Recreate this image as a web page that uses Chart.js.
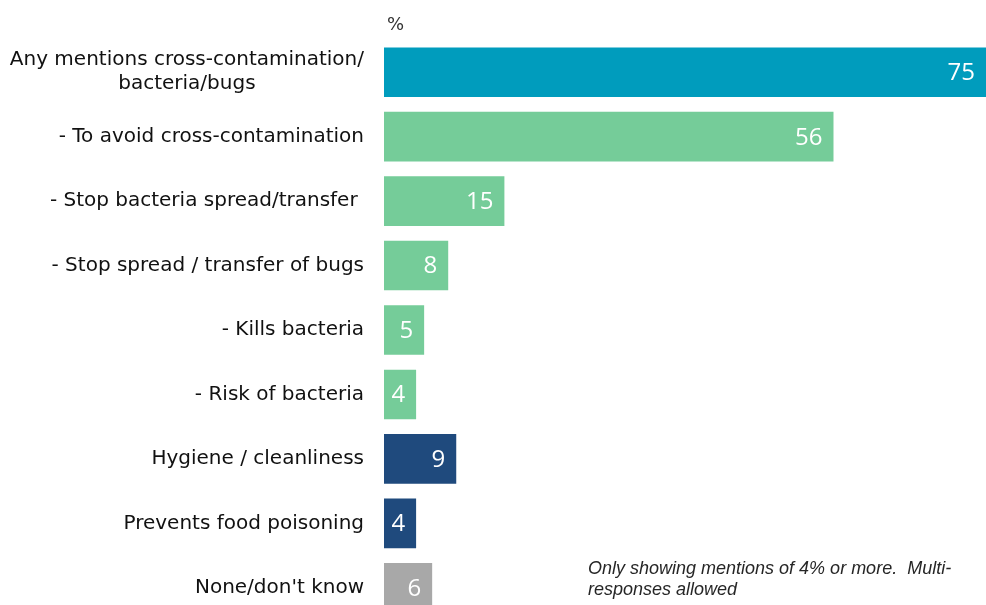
<!DOCTYPE html>
<html>
<head>
<meta charset="utf-8">
<script src="https://cdn.jsdelivr.net/npm/chart.js@4/dist/chart.umd.min.js"></script>
<style>
  html, body { margin: 0; padding: 0; background: #ffffff; overflow: hidden; }
  #wrap { position: relative; width: 986px; height: 620px; }
</style>
</head>
<body>
<div id="wrap"><canvas id="chart"></canvas></div>
<script>
// Reasons given, % of respondents (multi-response)
const categories = [
  ["Any mentions cross-contamination/", "bacteria/bugs"],
  "- To avoid cross-contamination",
  "- Stop bacteria spread/transfer ",
  "- Stop spread / transfer of bugs",
  "- Kills bacteria",
  "- Risk of bacteria",
  "Hygiene / cleanliness",
  "Prevents food poisoning",
  "None/don't know"
];
const values = [75, 56, 15, 8, 5, 4, 9, 4, 6];
const groups = ["total", "sub", "sub", "sub", "sub", "sub", "other", "other", "none"];
const unitLabel = "%";
const footnoteLines = ["Only showing mentions of 4% or more.  Multi-", "responses allowed"];

const groupColors = { total: "#009CBD", sub: "#75CC99", other: "#1F4A7D", none: "#A8A8A8" };

const labelFont = "20px 'DejaVu Sans', Verdana, sans-serif";
const valueFont = "24px 'Open Sans', 'Noto Sans', sans-serif";

// Draws category labels, value labels, unit marker and footnote
const annotate = {
  id: "annotate",
  afterDatasetsDraw(chart) {
    const { ctx, chartArea } = chart;
    const yScale = chart.scales.y;
    const meta = chart.getDatasetMeta(0);
    ctx.save();

    // category labels, right-aligned; wrapped lines centred on the first line
    ctx.font = labelFont;
    ctx.fillStyle = "#111111";
    ctx.textBaseline = "middle";
    const right = chartArea.left - 20;
    categories.forEach((cat, i) => {
      const y = yScale.getPixelForValue(i);
      const lines = Array.isArray(cat) ? cat : [cat];
      const lh = 24;
      const y0 = y - (lines.length - 1) * lh / 2;
      const w0 = ctx.measureText(lines[0]).width;
      lines.forEach((line, k) => {
        if (k === 0) {
          ctx.textAlign = "right";
          ctx.fillText(line, right, y0);
        } else {
          ctx.textAlign = "center";
          ctx.fillText(line, right - w0 / 2, y0 + k * lh);
        }
      });
    });

    // value labels inside bar ends
    ctx.font = valueFont;
    ctx.fillStyle = "#ffffff";
    ctx.textAlign = "right";
    meta.data.forEach((bar, i) => {
      ctx.fillText(String(values[i]), bar.x - 11, bar.y + 1);
    });

    // unit marker
    ctx.font = "18px 'DejaVu Sans', Verdana, sans-serif";
    ctx.fillStyle = "#333333";
    ctx.textAlign = "left";
    ctx.fillText(unitLabel, chartArea.left + 3, 25);

    // footnote
    ctx.font = "italic 18px 'Liberation Sans', Arial, sans-serif";
    ctx.fillStyle = "#262626";
    footnoteLines.forEach((line, k) => {
      ctx.fillText(line, 588, 569 + k * 21);
    });

    ctx.restore();
  }
};

new Chart(document.getElementById("chart"), {
  type: "bar",
  data: {
    labels: categories,
    datasets: [{
      data: values,
      backgroundColor: groups.map(g => groupColors[g]),
      borderWidth: 0,
      barPercentage: 0.77,
      categoryPercentage: 1
    }]
  },
  options: {
    indexAxis: "y",
    responsive: true,
    maintainAspectRatio: false,
    animation: false,
    layout: { padding: { left: 384, top: 40, right: 0, bottom: 0 } },
    plugins: { legend: { display: false }, tooltip: { enabled: false } },
    scales: {
      x: { min: 0, max: 75, display: false },
      y: { display: false }
    }
  },
  plugins: [annotate]
});
</script>
</body>
</html>
